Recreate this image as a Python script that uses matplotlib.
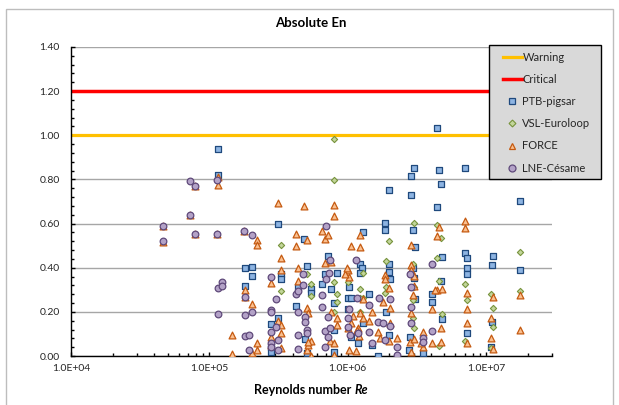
import numpy as np
import matplotlib
matplotlib.use("Agg")
import matplotlib.pyplot as plt
from matplotlib.lines import Line2D
from matplotlib.patches import Rectangle
from matplotlib.ticker import FixedLocator, FuncFormatter, MultipleLocator

plt.rcParams['font.family'] = ['Lato', 'DejaVu Sans']

# ---------------- data ----------------
ptb_re = [1.16e5, 1.16e5, 1.81e5, 2.04e5, 2.04e5, 1.81e5, 2.79e5, 2.79e5, 2.79e5, 3.16e5,
          3.31e5, 3.31e5, 3.16e5, 4.25e5, 4.39e5, 4.85e5, 5.11e5, 5.42e5, 5.42e5, 4.91e5,
          5.11e5, 6.47e5, 6.82e5, 7.19e5, 7.58e5, 7.95e5, 8.32e5, 7.95e5, 7.95e5, 1.0e6,
          1.014e6, 1.054e6, 1.0e6, 1.054e6, 1.218e6, 1.284e6, 1.259e6, 1.218e6, 1.437e6, 1.284e6,
          1.178e6, 1.504e6, 1.649e6, 1.868e6, 1.868e6, 1.98e6, 1.98e6, 1.98e6, 2.036e6, 1.905e6,
          1.98e6, 2.865e6, 3.02e6, 2.865e6, 2.959e6, 3.06e6, 2.959e6, 3.02e6, 3.06e6, 2.827e6,
          2.772e6, 3.49e6, 4.40e6, 4.54e6, 4.69e6, 4.40e6, 4.06e6, 4.06e6, 4.78e6, 4.69e6,
          4.78e6, 7.06e6, 7.06e6, 7.31e6, 7.31e6, 7.31e6, 7.31e6, 1.11e7, 1.13e7, 1.11e7,
          1.09e7, 1.75e7, 1.75e7]
ptb_en = [0.937, 0.819, 0.400, 0.404, 0.362, 0.317, 0.145, 0.042, 0.020, 0.596,
          0.371, 0.351, 0.170, 0.226, 0.311, 0.528, 0.407, 0.302, 0.284, 0.075,
          0.012, 0.324, 0.370, 0.453, 0.302, 0.241, 0.374, 0.118, 0.020, 0.264,
          0.311, 0.264, 0.211, 0.087, 0.419, 0.560, 0.397, 0.377, 0.280, 0.148,
          0.060, 0.050, 0.002, 0.603, 0.570, 0.754, 0.419, 0.382, 0.347, 0.200,
          0.095, 0.815, 0.852, 0.729, 0.573, 0.495, 0.400, 0.355, 0.256, 0.087,
          0.027, 0.012, 1.035, 0.842, 0.778, 0.676, 0.280, 0.246, 0.450, 0.341,
          0.166, 0.854, 0.468, 0.442, 0.397, 0.371, 0.103, 0.412, 0.453, 0.154,
          0.042, 0.703, 0.389]

vsl_re = [3.31e5, 3.31e5, 5.11e5, 5.42e5, 5.42e5, 7.95e5, 7.95e5, 7.95e5, 8.32e5, 8.32e5,
          7.95e5, 1.218e6, 1.284e6, 1.284e6, 1.218e6, 1.98e6, 1.905e6, 1.905e6, 1.868e6, 3.02e6,
          2.959e6, 3.02e6, 2.959e6, 3.02e6, 4.40e6, 4.69e6, 4.54e6, 4.40e6, 4.78e6, 4.54e6,
          7.06e6, 7.31e6, 7.06e6, 1.09e7, 1.13e7, 1.13e7, 1.09e7, 1.75e7, 1.75e7, 1.22e6,
          1.0e6, 2.95e6]
vsl_en = [0.501, 0.296, 0.371, 0.324, 0.272, 0.985, 0.797, 0.336, 0.280, 0.246,
          0.200, 0.302, 0.377, 0.264, 0.200, 0.522, 0.431, 0.311, 0.287, 0.603,
          0.419, 0.314, 0.253, 0.125, 0.593, 0.533, 0.339, 0.442, 0.190, 0.045,
          0.326, 0.253, 0.069, 0.280, 0.216, 0.133, 0.035, 0.469, 0.296, 0.264,
          0.337, 0.174]

force_re = [4.6e4, 4.6e4, 7.2e4, 7.89e4, 7.89e4, 1.16e5, 1.16e5, 1.13e5, 1.46e5, 1.46e5,
            1.78e5, 1.81e5, 1.81e5, 2.04e5, 2.04e5, 2.2e5, 2.2e5, 2.2e5, 2.2e5, 2.79e5,
            2.79e5, 2.79e5, 3.16e5, 3.31e5, 3.31e5, 3.16e5, 3.31e5, 3.31e5, 3.31e5, 4.25e5,
            4.25e5, 4.39e5, 4.39e5, 4.85e5, 5.11e5, 5.11e5, 5.18e5, 5.11e5, 5.42e5, 5.42e5,
            6.47e5, 6.82e5, 7.19e5, 6.82e5, 7.58e5, 7.58e5, 7.43e5, 7.95e5, 7.95e5, 7.95e5,
            7.95e5, 8.32e5, 8.32e5, 1.0e6, 1.014e6, 1.054e6, 1.014e6, 1.14e6, 1.218e6, 1.218e6,
            1.178e6, 1.218e6, 1.284e6, 1.284e6, 1.437e6, 1.504e6, 1.649e6, 1.714e6, 1.808e6, 1.868e6,
            1.868e6, 1.98e6, 2.036e6, 2.036e6, 1.98e6, 2.276e6, 2.865e6, 2.865e6, 3.02e6, 3.02e6,
            2.959e6, 2.865e6, 2.827e6, 3.02e6, 2.865e6, 3.49e6, 3.49e6, 4.06e6, 4.06e6, 4.40e6,
            4.54e6, 4.40e6, 4.78e6, 4.69e6, 4.69e6, 7.06e6, 7.06e6, 7.31e6, 7.31e6, 7.31e6,
            7.31e6, 1.09e7, 1.09e7, 1.13e7, 1.13e7, 1.75e7, 1.75e7, 2.865e6, 1.1e6, 1.16e6,
            1.2e6, 1.05e6, 9.6e5, 9.9e5, 1.0e6, 5.2e5, 5.2e5, 3.4e6, 4.3e6]
force_en = [0.517, 0.588, 0.641, 0.771, 0.555, 0.810, 0.774, 0.551, 0.095, 0.008,
            0.566, 0.299, 0.268, 0.234, 0.012, 0.525, 0.502, 0.057, 0.027, 0.332,
            0.084, 0.050, 0.691, 0.442, 0.389, 0.160, 0.140, 0.103, 0.035, 0.555,
            0.499, 0.400, 0.339, 0.680, 0.525, 0.216, 0.193, 0.027, 0.068, 0.002,
            0.567, 0.528, 0.548, 0.422, 0.427, 0.200, 0.069, 0.057, 0.005, 0.683,
            0.634, 0.170, 0.140, 0.389, 0.356, 0.498, 0.027, 0.023, 0.495, 0.548,
            0.125, 0.193, 0.256, 0.170, 0.160, 0.200, 0.110, 0.080, 0.246, 0.367,
            0.347, 0.306, 0.216, 0.151, 0.069, 0.080, 0.502, 0.412, 0.362, 0.317,
            0.276, 0.193, 0.065, 0.075, 0.020, 0.110, 0.042, 0.211, 0.057, 0.545,
            0.585, 0.299, 0.302, 0.125, 0.065, 0.612, 0.581, 0.287, 0.211, 0.148,
            0.057, 0.173, 0.080, 0.268, 0.030, 0.276, 0.118, 0.390, 0.180, 0.120,
            0.090, 0.150, 0.370, 0.400, 0.125, 0.050, 0.065, 0.060, 0.300]

lne_re = [4.6e4, 4.6e4, 7.2e4, 7.89e4, 7.2e4, 7.89e4, 1.13e5, 1.13e5, 1.16e5, 1.24e5,
          1.24e5, 1.16e5, 1.78e5, 2.04e5, 1.81e5, 1.81e5, 2.04e5, 1.81e5, 1.93e5, 1.93e5,
          2.79e5, 2.79e5, 2.81e5, 2.79e5, 2.79e5, 2.79e5, 3.02e5, 3.16e5, 3.16e5, 3.02e5,
          4.25e5, 4.39e5, 4.72e5, 4.72e5, 4.39e5, 4.39e5, 4.39e5, 4.91e5, 4.91e5, 5.11e5,
          5.11e5, 6.47e5, 6.47e5, 6.82e5, 6.82e5, 6.96e5, 7.43e5, 7.29e5, 6.96e5, 7.19e5,
          7.43e5, 7.19e5, 1.0e6, 1.0e6, 1.014e6, 1.033e6, 1.14e6, 1.164e6, 1.178e6, 1.437e6,
          1.437e6, 1.504e6, 1.649e6, 1.671e6, 1.808e6, 1.868e6, 2.036e6, 2.036e6, 2.276e6, 2.276e6,
          2.827e6, 2.865e6, 2.865e6, 2.865e6, 3.49e6, 3.49e6, 4.06e6, 4.06e6]
lne_en = [0.591, 0.519, 0.793, 0.771, 0.641, 0.555, 0.798, 0.551, 0.308, 0.336,
          0.317, 0.190, 0.566, 0.549, 0.268, 0.186, 0.198, 0.092, 0.095, 0.027,
          0.356, 0.208, 0.200, 0.110, 0.057, 0.042, 0.256, 0.072, 0.027, 0.130,
          0.279, 0.294, 0.371, 0.321, 0.200, 0.095, 0.030, 0.178, 0.155, 0.118,
          0.103, 0.275, 0.220, 0.113, 0.042, 0.588, 0.437, 0.374, 0.351, 0.178,
          0.125, 0.087, 0.170, 0.133, 0.211, 0.095, 0.437, 0.261, 0.103, 0.231,
          0.110, 0.060, 0.155, 0.265, 0.148, 0.072, 0.256, 0.136, 0.042, 0.005,
          0.370, 0.311, 0.220, 0.148, 0.080, 0.065, 0.416, 0.113]

warning_level = 1.0
critical_level = 1.2
x_major = [1e4, 1e5, 1e6, 1e7]
x_labels = ["1.0E+04", "1.0E+05", "1.0E+06", "1.0E+07"]

# ---------------- figure ----------------
W, H = 619, 405
fig = plt.figure(figsize=(W / 100, H / 100), dpi=100)
fig.patch.set_facecolor('white')

# outer chart border
fig.patches.append(Rectangle((6 / W, -0.01), (613 - 6) / W, 1.01 - 9 / H,
                             transform=fig.transFigure, fill=False,
                             edgecolor='#BDBDBD', lw=1.0, zorder=0))

ax = fig.add_axes([71 / W, 1 - 356 / H, (552 - 71) / W, (356 - 47) / H])
ax.set_xscale('log')
ax.set_xlim(1e4, 3e7)
ax.set_ylim(0, 1.4)

for s in ['top', 'right']:
    ax.spines[s].set_visible(False)
for s in ['left', 'bottom']:
    ax.spines[s].set_color('black')
    ax.spines[s].set_linewidth(1.0)

ax.yaxis.set_major_locator(MultipleLocator(0.2))
ax.yaxis.set_minor_locator(MultipleLocator(0.04))
ax.yaxis.set_major_formatter(FuncFormatter(lambda v, p: f"{v:.2f}"))
ax.xaxis.set_major_locator(FixedLocator(x_major))
ax.xaxis.set_major_formatter(FuncFormatter(lambda v, p: x_labels[x_major.index(v)] if v in x_major else ""))
minors = [m * 10 ** e for e in range(4, 8) for m in range(2, 10) if m * 10 ** e <= 3e7]
ax.xaxis.set_minor_locator(FixedLocator(minors))
ax.xaxis.set_minor_formatter(FuncFormatter(lambda v, p: ""))

ax.tick_params(axis='both', which='major', direction='in', length=3, width=1,
               color='black', labelsize=7.5, labelcolor='#262626')
ax.tick_params(axis='both', which='minor', direction='in', length=2.5, width=1, color='black')
ax.tick_params(axis='y', which='major', pad=8)
ax.tick_params(axis='x', which='major', pad=6)

ax.yaxis.grid(True, which='major', color='#A6A6A6', lw=1.0)
ax.set_axisbelow(True)

ax.axhline(warning_level, color='#FFC000', lw=2.3, zorder=2)
ax.axhline(critical_level, color='#FF0000', lw=2.5, zorder=2)

ax.scatter(ptb_re, ptb_en, marker='s', s=22, facecolor='#8DB4E2', edgecolor='#1F497D', lw=0.9, zorder=3)
ax.scatter(vsl_re, vsl_en, marker='D', s=10, facecolor='#C3D69B', edgecolor='#77933C', lw=0.8, zorder=4)
ax.scatter(force_re, force_en, marker='^', s=24, facecolor='#FAC090', edgecolor='#C55A11', lw=0.9, zorder=5)
ax.scatter(lne_re, lne_en, marker='o', s=23, facecolor='#B3A2C7', edgecolor='#5F497A', lw=0.9, zorder=6)

# title and axis label
fig.text(311 / W, 1 - 23 / H, "Absolute En", ha='center', va='center',
         fontsize=9.5, fontweight='bold', color='black')

fig.canvas.draw()
r = fig.canvas.get_renderer()
t1 = fig.text(0, 0, "Reynolds number ", fontsize=9, fontweight='bold')
t2 = fig.text(0, 0, "Re", fontsize=9, fontweight='bold', style='italic')
w1 = t1.get_window_extent(r).width
w2 = t2.get_window_extent(r).width
x0 = 311 - (w1 + w2) / 2
t1.set_position((x0 / W, 1 - 390 / H)); t1.set_va('center')
t2.set_position(((x0 + w1) / W, 1 - 390 / H)); t2.set_va('center')

# legend box
fig.patches.append(Rectangle((489 / W, 1 - 179 / H), 112 / W, 134 / H,
                             transform=fig.transFigure, facecolor='#D9D9D9',
                             edgecolor='black', lw=1.0, zorder=4))
handles = [
    Line2D([], [], color='#FFC000', lw=2.3),
    Line2D([], [], color='#FF0000', lw=2.5),
    Line2D([], [], ls='none', marker='s', ms=5, mfc='#8DB4E2', mec='#1F497D', mew=0.9),
    Line2D([], [], ls='none', marker='D', ms=3.5, mfc='#C3D69B', mec='#77933C', mew=0.8),
    Line2D([], [], ls='none', marker='^', ms=5, mfc='#FAC090', mec='#C55A11', mew=0.9),
    Line2D([], [], ls='none', marker='o', ms=5, mfc='#B3A2C7', mec='#5F497A', mew=0.9),
]
labels = ["Warning", "Critical", "PTB-pigsar", "VSL-Euroloop", "FORCE", "LNE-Césame"]
leg = fig.legend(handles, labels, loc='upper left', bbox_to_anchor=(503 / W, 1 - 52 / H),
                 frameon=False, borderpad=0, borderaxespad=0, handlelength=1.7,
                 handletextpad=0.05, labelspacing=1.0, prop={'size': 8})
leg.set_zorder(6)
for t in leg.get_texts():
    t.set_color('#262626')

fig.savefig("out.png", dpi=100)
